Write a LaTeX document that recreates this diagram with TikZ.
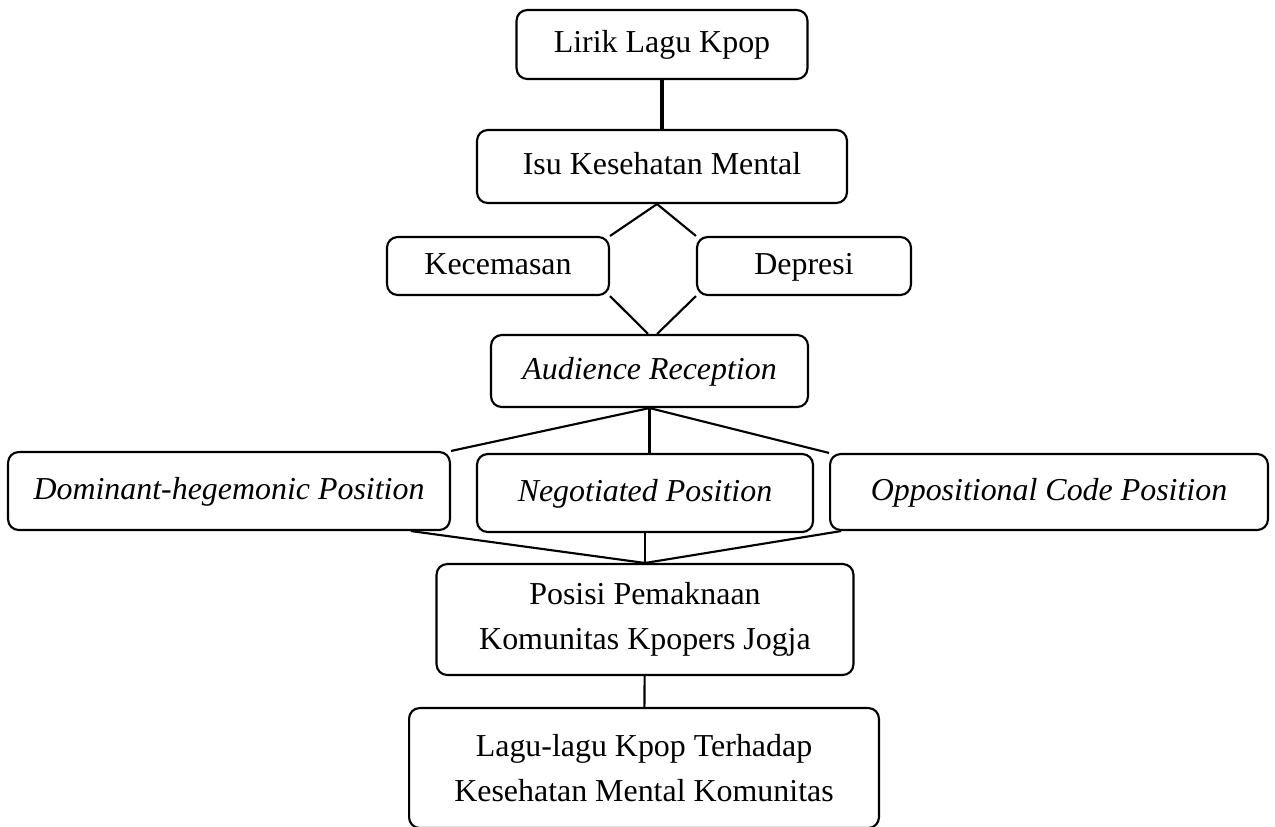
\documentclass[tikz,border=0pt]{standalone}
\usepackage{fontspec}
\setmainfont{Liberation Serif}
\begin{document}
\begin{tikzpicture}[x=0.01321cm,y=-0.01321cm,line width=0.8pt,
  every node/.style={font=\fontsize{12}{16.9}\selectfont},
  kotak/.style={draw,rounded corners=4pt,align=center,line width=0.8pt},
  satu/.style={text height=0.82em,text depth=0.2em}]
  \useasboundingbox (0,0) rectangle (1275,826);
  \node[kotak,satu,minimum width=3.844cm,minimum height=0.911cm] (lirik) at (662,44.5) {Lirik Lagu Kpop};
  \node[kotak,satu,minimum width=4.888cm,minimum height=0.964cm] (isu) at (662,166.5) {Isu Kesehatan Mental};
  \node[kotak,satu,minimum width=2.933cm,minimum height=0.766cm] (kec) at (498,266) {Kecemasan};
  \node[kotak,satu,minimum width=2.827cm,minimum height=0.766cm] (dep) at (804,266) {Depresi};
  \node[kotak,satu,minimum width=4.188cm,minimum height=0.951cm] (aud) at (649.5,371) {\textit{Audience Reception}};
  \node[kotak,satu,minimum width=5.839cm,minimum height=1.030cm] (dom) at (229,491) {\textit{Dominant-hegemonic Position}};
  \node[kotak,satu,minimum width=4.439cm,minimum height=1.030cm] (neg) at (645,493) {\textit{Negotiated Position}};
  \node[kotak,satu,minimum width=5.786cm,minimum height=1.004cm] (opp) at (1049,492) {\textit{Oppositional Code Position}};
  \node[kotak,minimum width=5.509cm,minimum height=1.466cm] (pos) at (645,619.5) {Posisi Pemaknaan\\Komunitas Kpopers Jogja};
  \node[kotak,minimum width=6.209cm,minimum height=1.585cm] (lagu) at (644,768) {Lagu-lagu Kpop Terhadap\\Kesehatan Mental Komunitas};
  \draw[line width=1.2pt] (lirik) -- (isu);
  \draw (kec.north east) -- ([xshift=-0.066cm]isu.south) -- (dep.north west);
  \draw (kec.south east) -- ([xshift=-0.02cm]aud.north);
  \draw (dep.south west) -- ([xshift=0.1cm]aud.north);
  \draw (dom.north east) -- (aud.south) -- (opp.north west);
  \draw (aud.south) -- (aud.south |- neg.north);
  \draw ([xshift=-0.53cm]dom.south east) -- (pos.north) -- ([xshift=0.16cm]opp.south west);
  \draw (neg.south) -- (pos.north);
  \draw (pos) -- (lagu);
\end{tikzpicture}
\end{document}
